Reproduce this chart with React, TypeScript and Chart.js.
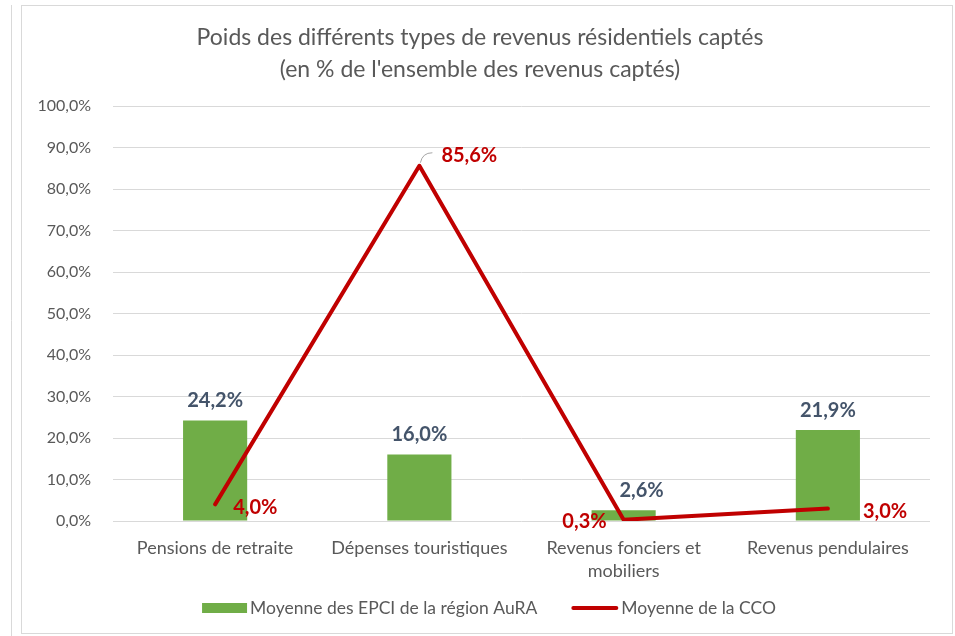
import React, { useEffect, useRef } from "react";
import { Chart, registerables } from "chart.js";

Chart.register(...registerables);

const categories: string[][] = [
  ["Pensions de retraite"],
  ["Dépenses touristiques"],
  ["Revenus fonciers et", "mobiliers"],
  ["Revenus pendulaires"],
];
const epciValues = [24.2, 16.0, 2.6, 21.9];
const ccoValues = [4.0, 85.6, 0.3, 3.0];
const seriesNames = ["Moyenne des EPCI de la région AuRA", "Moyenne de la CCO"];
const titleLines = [
  "Poids des différents types de revenus résidentiels captés",
  "(en % de l'ensemble des revenus captés)",
];
const yMin = 0;
const yMax = 100;
const yStep = 10;

// label placement for the bar labels (horizontal shift)
const epciLabelShift = [0, 0, 18, 0];
// label placement for the CCO line labels (dx, dy, align)
const ccoLabelPlacement = [
  { dx: 18, dy: 3, align: "left" },
  { dx: 22, dy: -10, align: "left", leader: true },
  { dx: -17, dy: 2, align: "right" },
  { dx: 35, dy: 3, align: "left" },
];

const GREEN = "#70AD47";
const RED = "#C00000";
const GREY_TEXT = "#595959";
const BAR_LABEL = "#44546A";
const GRID = "#D9D9D9";
const FONT = "Lato, 'Open Sans', sans-serif";

const fmt = (v: number) => v.toFixed(1).replace(".", ",") + "%";

const framePlugin = {
  id: "frame",
  beforeDraw(chart: any) {
    const ctx = chart.ctx;
    ctx.save();
    ctx.fillStyle = "#ffffff";
    ctx.fillRect(0, 0, chart.width, chart.height);
    ctx.strokeStyle = GRID;
    ctx.lineWidth = 1;
    ctx.beginPath();
    ctx.moveTo(11.5, 5);
    ctx.lineTo(11.5, chart.height);
    ctx.stroke();
    ctx.strokeRect(21.5, 5.5, 931, 628);
    ctx.restore();
  },
};

const legendPlugin = {
  id: "customLegend",
  afterDraw(chart: any) {
    const ctx = chart.ctx;
    ctx.save();
    ctx.font = `17.5px ${FONT}`;
    const w1 = ctx.measureText(seriesNames[0]).width;
    const w2 = ctx.measureText(seriesNames[1]).width;
    const boxW = 45;
    const lineW = 47;
    const gapText = 3;
    const gapItems = 34;
    const total = boxW + gapText + w1 + gapItems + lineW + gapText + w2;
    const cx = 489;
    const cy = 608;
    let x = cx - total / 2;
    ctx.fillStyle = GREEN;
    ctx.fillRect(x, cy - 5, boxW, 10);
    x += boxW + gapText;
    ctx.fillStyle = GREY_TEXT;
    ctx.textAlign = "left";
    ctx.textBaseline = "middle";
    ctx.fillText(seriesNames[0], x, cy);
    x += w1 + gapItems;
    ctx.strokeStyle = RED;
    ctx.lineWidth = 4;
    ctx.lineCap = "round";
    ctx.beginPath();
    ctx.moveTo(x + 2, cy);
    ctx.lineTo(x + lineW - 2, cy);
    ctx.stroke();
    x += lineW + gapText;
    ctx.fillText(seriesNames[1], x, cy);
    ctx.restore();
  },
};

const labelPlugin = {
  id: "valueLabels",
  afterDatasetsDraw(chart: any) {
    const ctx = chart.ctx;
    ctx.save();
    const barMeta = chart.getDatasetMeta(0);
    ctx.font = `bold 20px ${FONT}`;
    ctx.fillStyle = BAR_LABEL;
    ctx.textAlign = "center";
    ctx.textBaseline = "middle";
    barMeta.data.forEach((el: any, i: number) => {
      ctx.fillText(fmt(epciValues[i]), el.x + epciLabelShift[i], el.y - 20);
    });
    const lineMeta = chart.getDatasetMeta(1);
    lineMeta.data.forEach((el: any, i: number) => {
      const p = ccoLabelPlacement[i];
      if ((p as any).leader) {
        ctx.strokeStyle = "#A6A6A6";
        ctx.lineWidth = 1;
        ctx.beginPath();
        ctx.moveTo(el.x + 1, el.y - 3);
        ctx.quadraticCurveTo(el.x + 3, el.y - 13, el.x + 13, el.y - 13);
        ctx.stroke();
      }
      ctx.font = `bold 20px ${FONT}`;
      ctx.fillStyle = RED;
      ctx.textAlign = p.align as CanvasTextAlign;
      ctx.textBaseline = "middle";
      ctx.fillText(fmt(ccoValues[i]), el.x + p.dx, el.y + p.dy);
    });
    ctx.restore();
  },
};

export default function App() {
  const ref = useRef<HTMLCanvasElement | null>(null);

  useEffect(() => {
    document.body.style.margin = "0";
    if (!ref.current) return;
    const chart = new Chart(ref.current, {
      type: "bar",
      data: {
        labels: categories,
        datasets: [
          {
            type: "bar",
            label: seriesNames[0],
            data: epciValues,
            backgroundColor: GREEN,
            borderWidth: 0,
            categoryPercentage: 1,
            barPercentage: 0.314,
            order: 1,
          },
          {
            type: "line",
            label: seriesNames[1],
            data: ccoValues,
            borderColor: RED,
            backgroundColor: RED,
            borderWidth: 4,
            pointRadius: 0,
            tension: 0,
            borderJoinStyle: "round",
            borderCapStyle: "round",
            order: 0,
          } as any,
        ],
      },
      options: {
        responsive: false,
        animation: false,
        events: [],
        layout: { padding: { left: 30, right: 25, top: 5, bottom: 50 } },
        plugins: {
          tooltip: { enabled: false },
          legend: { display: false },
          title: {
            display: true,
            text: titleLines,
            color: GREY_TEXT,
            font: { family: FONT, size: 23, weight: "normal", lineHeight: 32 / 23 },
            padding: { top: 17, bottom: 20 },
          },
        },
        scales: {
          x: {
            grid: { display: false, drawTicks: false },
            border: { display: false },
            ticks: {
              color: GREY_TEXT,
              font: { family: FONT, size: 18, lineHeight: 23 / 18 },
              padding: 16,
              maxRotation: 0,
              autoSkip: false,
            },
            afterFit: (scale: any) => {
              scale.height = 65;
            },
          },
          y: {
            min: yMin,
            max: yMax,
            grid: { color: GRID, lineWidth: 1, drawTicks: false },
            border: { display: false },
            ticks: {
              stepSize: yStep,
              color: GREY_TEXT,
              font: { family: FONT, size: 16 },
              padding: 22,
              callback: (v: any) => fmt(Number(v)),
            },
            afterFit: (scale: any) => {
              scale.width = 83;
            },
          },
        },
      },
      plugins: [framePlugin, labelPlugin, legendPlugin],
    });
    return () => chart.destroy();
  }, []);

  return (
    <div style={{ position: "fixed", left: 0, top: 0, width: 955, height: 636 }}>
      <canvas ref={ref} width={955} height={636} style={{ width: 955, height: 636, display: "block" }} />
    </div>
  );
}
